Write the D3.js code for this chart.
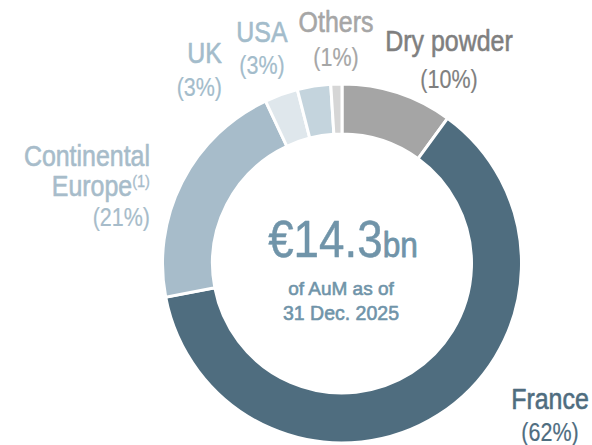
<!DOCTYPE html>
<html>
<head>
<meta charset="utf-8">
<script src="https://cdn.jsdelivr.net/npm/d3@7"></script>
<style>
  html, body { margin: 0; padding: 0; background: #fff; }
  svg text { font-family: "Liberation Sans", Arial, sans-serif; }
</style>
</head>
<body>
<div id="chart"></div>
<script>
// AuM split, clockwise from 12 o'clock
const categories = ["Dry powder", "France", "Continental Europe", "UK", "USA", "Others"];
const shares = [10, 62, 21, 3, 3, 1];
const pctLabels = ["(10%)", "(62%)", "(21%)", "(3%)", "(3%)", "(1%)"];
const totalLabel = "€14.3";
const totalUnit = "bn";
const subtitle = ["of AuM as of", "31 Dec. 2025"];

const sliceColors = {
  "Dry powder": "#a5a5a5",
  "France": "#4f6d7f",
  "Continental Europe": "#a7bcca",
  "UK": "#dfe7ec",
  "USA": "#c4d4dd",
  "Others": "#d6d6d6"
};
const textColors = {
  "Dry powder": "#7f7f7f",
  "France": "#4f6d7f",
  "Continental Europe": "#a7bcca",
  "UK": "#a3bccb",
  "USA": "#a3bccb",
  "Others": "#a6a6a6"
};

// where each label sits (hand placed, like the original slide)
const labelPos = {
  "Dry powder":         { x: 449, y: [51, 88], anchor: "middle" },
  "France":             { x: 550, y: [409, 441], anchor: "middle" },
  "Continental Europe": { x: 150, y: [166, 196, 226], anchor: "end" },
  "UK":                 { x: 222, y: [63, 96], anchor: "end" },
  "USA":                { x: 262, y: [42, 74], anchor: "middle" },
  "Others":             { x: 336, y: [32, 66], anchor: "middle" }
};

const width = 592, height = 445;
const cx = 342, cy = 263.5;
const outerR = 179.5, innerR = 129.5;
const titleSize = 29, titleSx = 0.86;
const pctSize = 25, pctSx = 0.86;

const data = categories.map((c, i) => ({ cat: c, value: shares[i], pct: pctLabels[i] }));

const svg = d3.select("#chart").append("svg")
  .attr("width", width)
  .attr("height", height);

const pie = d3.pie().sort(null).value(d => d.value);
const arc = d3.arc().innerRadius(innerR).outerRadius(outerR);

svg.append("g")
  .attr("transform", `translate(${cx},${cy})`)
  .selectAll("path")
  .data(pie(data))
  .enter().append("path")
  .attr("d", arc)
  .attr("fill", d => sliceColors[d.data.cat])
  .attr("stroke", "#fff")
  .attr("stroke-width", 3);

// narrow text: no condensed font installed, so squeeze horizontally
// (thin stroke in the fill colour to get the slide's medium weight)
function addText(g, x, y, size, sx, weight) {
  return g.append("text")
    .attr("transform", `translate(${x},${y}) scale(${sx},1)`)
    .style("font-size", size + "px")
    .attr("stroke", g.attr("fill"))
    .attr("stroke-width", weight)
    .attr("stroke-linejoin", "round");
}

// labels
data.forEach(d => {
  const p = labelPos[d.cat];
  const g = svg.append("g").attr("fill", textColors[d.cat]).attr("text-anchor", p.anchor);

  if (d.cat === "Continental Europe") {
    addText(g, p.x, p.y[0], titleSize, titleSx, 0.6).text("Continental");
    const t = addText(g, p.x, p.y[1], titleSize, titleSx, 0.6);
    t.append("tspan").text("Europe");
    t.append("tspan").attr("dy", -9).style("font-size", "17px").attr("stroke-width", 0.3).text("(1)");
    addText(g, p.x, p.y[2], pctSize, pctSx, 0.2).text(d.pct);
  } else {
    addText(g, p.x, p.y[0], titleSize, titleSx, 0.6).text(d.cat);
    addText(g, p.x, p.y[1], pctSize, pctSx, 0.2).text(d.pct);
  }
});

// centre text
const centre = svg.append("g").attr("fill", "#7094a9").attr("text-anchor", "middle");
const big = addText(centre, cx + 1, 257, 52, 0.88, 0.5);
big.append("tspan").text(totalLabel);
big.append("tspan").style("font-size", "36px").attr("stroke-width", 0.8).text(totalUnit);

addText(centre, cx - 1, 295, 19, 1, 0.6).text(subtitle[0]);
addText(centre, cx - 1, 320, 19.5, 1, 0.6).text(subtitle[1]);
</script>
</body>
</html>
